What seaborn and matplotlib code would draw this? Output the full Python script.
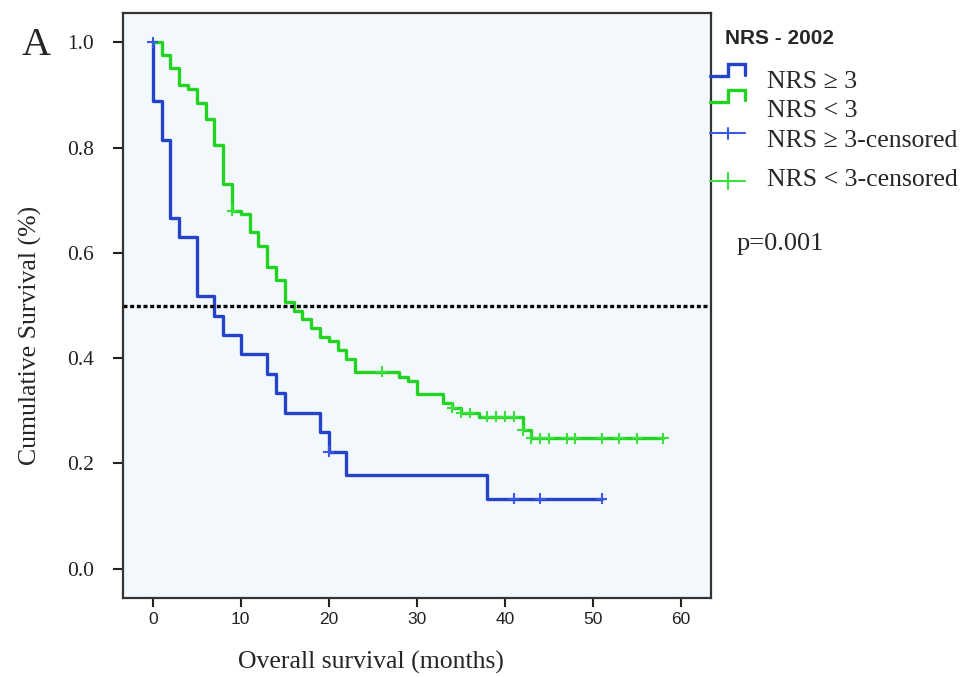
import numpy as np
import pandas as pd
import matplotlib
matplotlib.use("Agg")
import matplotlib.pyplot as plt
import seaborn as sns
from matplotlib.lines import Line2D

# Kaplan-Meier estimates: event times (months) and survival after each step
high_times = [0, 0, 1, 2, 3, 5, 7, 8, 10, 13, 14, 15, 19, 20, 22, 38]
high_surv = [1.0, 0.889, 0.815, 0.667, 0.630, 0.519, 0.481, 0.444, 0.407,
             0.370, 0.333, 0.296, 0.259, 0.222, 0.178, 0.133]
high_end = 51

low_times = [0, 1, 2, 3, 4, 5, 6, 7, 8, 9, 10, 11, 12, 13, 14, 15, 16, 17,
             18, 19, 20, 21, 22, 23, 28, 29, 30, 33, 34, 35, 37, 42, 43]
low_surv = [1.0, 0.976, 0.951, 0.918, 0.911, 0.885, 0.854, 0.804, 0.730,
            0.680, 0.673, 0.640, 0.614, 0.573, 0.548, 0.506, 0.490, 0.474,
            0.457, 0.441, 0.433, 0.415, 0.398, 0.374, 0.365, 0.357, 0.331,
            0.314, 0.306, 0.296, 0.289, 0.263, 0.248]
low_end = 58

# Censored observations
high_cens_times = [0, 20, 41, 44, 51]
high_cens_surv = [1.0, 0.222, 0.133, 0.133, 0.133]
low_cens_times = [9, 26, 34, 35, 36, 38, 39, 40, 41, 42, 43, 44, 45, 47, 48,
                  51, 53, 55, 58]
low_cens_surv = [0.680, 0.374, 0.306, 0.296, 0.296, 0.289, 0.289, 0.289,
                 0.289, 0.263, 0.248, 0.248, 0.248, 0.248, 0.248, 0.248,
                 0.248, 0.248, 0.248]

groups = ["NRS \u2265 3", "NRS < 3"]
line_colors = ["#2443C9", "#22D322"]
cens_colors = ["#3A5AE6", "#3CE03C"]
legend_labels = ["NRS \u2265 3", "NRS < 3", "NRS \u2265 3-censored",
                 "NRS < 3-censored"]
x_ticks = [0, 10, 20, 30, 40, 50, 60]
y_ticks = [0.0, 0.2, 0.4, 0.6, 0.8, 1.0]

curves = pd.concat([
    pd.DataFrame({"months": high_times + [high_end],
                  "survival": high_surv + [high_surv[-1]],
                  "group": groups[0]}),
    pd.DataFrame({"months": low_times + [low_end],
                  "survival": low_surv + [low_surv[-1]],
                  "group": groups[1]}),
], ignore_index=True)

censored = pd.concat([
    pd.DataFrame({"months": high_cens_times, "survival": high_cens_surv,
                  "group": groups[0]}),
    pd.DataFrame({"months": low_cens_times, "survival": low_cens_surv,
                  "group": groups[1]}),
], ignore_index=True)

sns.set_theme(style="white")
plt.rcParams["font.family"] = ["Liberation Serif", "DejaVu Serif"]

W, H = 968, 677
fig = plt.figure(figsize=(W / 100, H / 100), dpi=100)


def fx(x):
    return x / W


def fy(y):
    return 1 - y / H


ax_l, ax_r, ax_t, ax_b = 123.3, 710.7, 13.0, 597.5
ax = fig.add_axes([fx(ax_l), fy(ax_b), (ax_r - ax_l) / W, (ax_b - ax_t) / H])
ax.set_facecolor("#F3F8FD")

sns.lineplot(data=curves, x="months", y="survival", hue="group",
             hue_order=groups, palette=line_colors, drawstyle="steps-post",
             estimator=None, sort=False, linewidth=2.4, legend=False, ax=ax)
sns.scatterplot(data=censored, x="months", y="survival", hue="group",
                hue_order=groups, palette=cens_colors, marker="+", s=60,
                linewidth=1.5, legend=False, ax=ax, zorder=4)

# Median survival reference line
ax.axhline(0.5, color="black", linewidth=2.4, dashes=(1.2, 0.8), zorder=2)

ax.set_xlim(-3.34, 63.37)
ax.set_ylim(-0.0547, 1.0557)
ax.set_xticks(x_ticks, labels=[str(t) for t in x_ticks], fontsize=12.5,
              fontfamily="Liberation Sans")
ax.set_yticks(y_ticks, labels=[f"{v:.1f}" for v in y_ticks], fontsize=15.5,
              fontfamily="Liberation Serif")
ax.tick_params(axis="x", bottom=True, length=6.5, width=1.5, pad=4,
               direction="out", colors="#222222")
ax.tick_params(axis="y", left=True, length=7.2, width=1.5, pad=14,
               direction="out", colors="#222222")
for side in ["left", "right", "top", "bottom"]:
    ax.spines[side].set_visible(True)
    ax.spines[side].set_color("#333333")
    ax.spines[side].set_linewidth(1.6)

ax.set_xlabel("Overall survival (months)", fontsize=18.5)
ax.set_ylabel("Cumulative Survival (%)", fontsize=18.5)
ax.xaxis.set_label_coords((371 - ax_l) / (ax_r - ax_l),
                          (ax_b - 662) / (ax_b - ax_t))
ax.xaxis.label.set_verticalalignment("center")
ax.yaxis.set_label_coords((30 - ax_l) / (ax_r - ax_l),
                          (ax_b - 335) / (ax_b - ax_t))
ax.yaxis.label.set_verticalalignment("center")

# Panel letter
fig.text(fx(21.7), fy(55), "A", fontsize=29, ha="left", va="baseline")

# Legend panel to the right of the plot
fig.text(fx(725), fy(44.4), "NRS - 2002", fontsize=15, fontweight="bold",
         fontfamily="Liberation Sans", ha="left", va="baseline")


def step_handle(y_low, y_high, y_end, color):
    xs = [fx(710), fx(728.3), fx(728.3), fx(745), fx(745)]
    ys = [fy(y_low), fy(y_low), fy(y_high), fy(y_high), fy(y_end)]
    fig.add_artist(Line2D(xs, ys, color=color, linewidth=2.4,
                          solid_joinstyle="miter"))


def cross_handle(y, half, color):
    fig.add_artist(Line2D([fx(710), fx(745)], [fy(y), fy(y)], color=color,
                          linewidth=1.5))
    fig.add_artist(Line2D([fx(728.3), fx(728.3)], [fy(y - half), fy(y + half)],
                          color=color, linewidth=1.5))


step_handle(76, 64, 75, line_colors[0])
step_handle(101.7, 90, 100, line_colors[1])
cross_handle(133.3, 5.5, cens_colors[0])
cross_handle(180.7, 8, cens_colors[1])

for label, base in zip(legend_labels, [88.3, 117.3, 146.6, 185.6]):
    fig.text(fx(766.7), fy(base), label, fontsize=18.5, ha="left",
             va="baseline")

fig.text(fx(736.7), fy(250), "p=0.001", fontsize=19, ha="left",
         va="baseline")

fig.savefig("out.png", dpi=100, facecolor="white")
